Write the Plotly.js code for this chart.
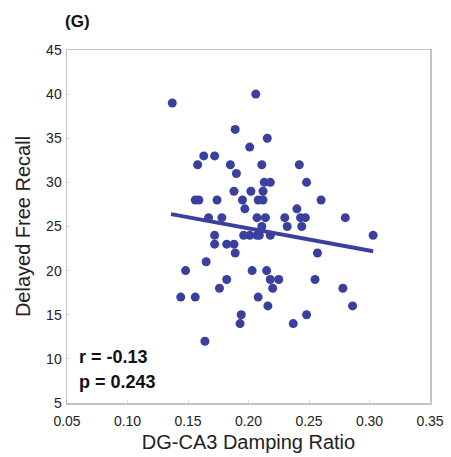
<!DOCTYPE html>
<html>
<head>
<meta charset="utf-8">
<script src="https://cdn.plot.ly/plotly-3.0.1.min.js"></script>
<style>html,body{margin:0;padding:0;background:#fff;}#chart{width:451px;height:457px;}</style>
</head>
<body>
<div id="chart"></div>
<script>
// Scatter points: DG-CA3 damping ratio (x) vs delayed free recall (y)
const dampingRatio = [
  0.206, 0.137, 0.189, 0.2155, 0.201,
  0.163, 0.172,
  0.158, 0.185, 0.211, 0.242,
  0.190,
  0.213, 0.218, 0.248,
  0.188, 0.202, 0.212,
  0.156, 0.159, 0.174, 0.195, 0.208, 0.212, 0.260,
  0.197, 0.240,
  0.167, 0.178, 0.207, 0.214, 0.230, 0.243, 0.247, 0.280,
  0.211, 0.232, 0.244,
  0.172, 0.196, 0.201, 0.207, 0.209, 0.218, 0.303,
  0.172, 0.182, 0.188,
  0.189, 0.257,
  0.165,
  0.148, 0.203, 0.215,
  0.182, 0.218, 0.225, 0.255,
  0.176, 0.220, 0.278,
  0.144, 0.156, 0.208,
  0.216, 0.286,
  0.194, 0.248,
  0.193, 0.237,
  0.164
];
const freeRecall = [
  40, 39, 36, 35, 34,
  33, 33,
  32, 32, 32, 32,
  31,
  30, 30, 30,
  29, 29, 29,
  28, 28, 28, 28, 28, 28, 28,
  27, 27,
  26, 26, 26, 26, 26, 26, 26, 26,
  25, 25, 25,
  24, 24, 24, 24, 24, 24, 24,
  23, 23, 23,
  22, 22,
  21,
  20, 20, 20,
  19, 19, 19, 19,
  18, 18, 18,
  17, 17, 17,
  16, 16,
  15, 15,
  14, 14,
  12
];
// Regression line endpoints
const fitX = [0.136, 0.303];
const fitY = [26.4, 22.2];

const xTicks = [0.05, 0.10, 0.15, 0.20, 0.25, 0.30, 0.35];
const yTicks = [5, 10, 15, 20, 25, 30, 35, 40, 45];

const col = '#3b3f9e';
const fam = 'Liberation Sans, Arial, sans-serif';
const data = [
  {x: dampingRatio, y: freeRecall, type: 'scatter', mode: 'markers',
   marker: {color: col, size: 9, line: {width: 0}}, hoverinfo: 'x+y'},
  {x: fitX, y: fitY, type: 'scatter', mode: 'lines',
   line: {color: col, width: 4}}
];
const axCommon = {
  showline: true, mirror: true, linecolor: '#c4c4c4', linewidth: 1.5,
  showgrid: false, zeroline: false, ticks: 'inside', ticklen: 3,
  tickcolor: '#dddddd', tickwidth: 1,
  tickfont: {family: fam, size: 14, color: '#222'}
};
const layout = {
  width: 451, height: 457,
  margin: {l: 67, r: 21, t: 50, b: 54},
  paper_bgcolor: '#fff', plot_bgcolor: '#fff',
  showlegend: false,
  xaxis: Object.assign({}, axCommon, {
    range: [0.05, 0.35], tickvals: xTicks, tickformat: '.2f',
    ticklabelstandoff: 5,
    title: {text: 'DG-CA3 Damping Ratio', standoff: 6,
      font: {family: fam, size: 20, color: '#222'}}
  }),
  yaxis: Object.assign({}, axCommon, {
    range: [5, 45], tickvals: yTicks, ticklabelstandoff: 1,
    title: {text: 'Delayed Free Recall', standoff: 10,
      font: {family: fam, size: 20, color: '#222'}}
  }),
  annotations: [
    {xref: 'paper', yref: 'paper', x: -0.012, y: 1.08, xanchor: 'left', yanchor: 'middle',
     text: '<b>(G)</b>', showarrow: false,
     font: {family: fam, size: 17, color: '#111'}},
    {xref: 'paper', yref: 'paper', x: 0.028, y: 0.13, xanchor: 'left', yanchor: 'middle',
     text: '<b>r = -0.13</b>', showarrow: false,
     font: {family: fam, size: 18, color: '#111'}},
    {xref: 'paper', yref: 'paper', x: 0.028, y: 0.059, xanchor: 'left', yanchor: 'middle',
     text: '<b>p = 0.243</b>', showarrow: false,
     font: {family: fam, size: 18, color: '#111'}}
  ]
};
Plotly.newPlot('chart', data, layout, {displayModeBar: false, staticPlot: true});
</script>
</body>
</html>
